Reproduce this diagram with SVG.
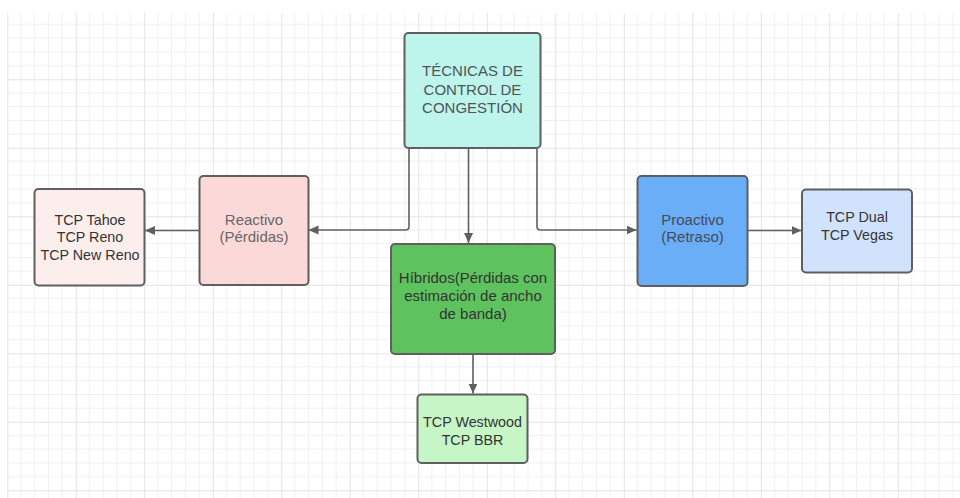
<svg xmlns="http://www.w3.org/2000/svg" width="960" height="498" viewBox="0 0 960 498">
  <defs>
    <pattern id="grid" patternUnits="userSpaceOnUse" x="7.3" y="10.8" width="68.5" height="68.5">
      <g stroke="#f0f0f0" stroke-width="1">
        <path d="M13.7,0V68.5M27.4,0V68.5M41.1,0V68.5M54.8,0V68.5"/>
        <path d="M0,13.7H68.5M0,27.4H68.5M0,41.1H68.5M0,54.8H68.5"/>
      </g>
      <path d="M0.5,0V68.5M0,0.5H68.5" stroke="#e3e3e3" stroke-width="1"/>
    </pattern>
    <marker id="arr" markerUnits="userSpaceOnUse" markerWidth="11" markerHeight="10" refX="10" refY="4.5" orient="auto">
      <path d="M0,0 L10,4.5 L0,9 z" fill="#5f5f5f"/>
    </marker>
    <style>
      .box { stroke: #5f5f5f; stroke-width: 2; }
      .t { font-family: "Liberation Sans", Arial, sans-serif; text-anchor: middle; }
      .t15 { font-size: 15px; }
      .t14 { font-size: 14.3px; }
      .conn { fill: none; stroke: #5f5f5f; stroke-width: 1.6; marker-end: url(#arr); }
    </style>
  </defs>
  <rect width="960" height="498" fill="#ffffff"/>
  <rect x="7" y="13" width="953" height="485" fill="url(#grid)"/>

  <g id="connectors">
    <path class="conn" d="M409,149 V226.5 Q409,230 405.5,230 H308.5"/>
    <path class="conn" d="M468.5,149 V243"/>
    <path class="conn" d="M537,149 V226.5 Q537,230 540.5,230 H636.5"/>
    <path class="conn" d="M199,230.5 H145"/>
    <path class="conn" d="M747.5,230.5 H801.5"/>
    <path class="conn" d="M473,355 V393.5"/>
  </g>

  <g id="tecnicas">
    <rect class="box" x="404.5" y="33" width="136" height="115" rx="4" fill="#bdf4ec"/>
    <text class="t t15" fill="#4f5555" x="472.5" y="76">TÉCNICAS DE</text>
    <text class="t t15" fill="#4f5555" x="472.5" y="94.5">CONTROL DE</text>
    <text class="t t15" fill="#4f5555" x="472.5" y="112.7">CONGESTIÓN</text>
  </g>

  <g id="reactivo">
    <rect class="box" x="199.5" y="176" width="109" height="109" rx="4" fill="#fcd9d9"/>
    <text class="t t15" fill="#666666" x="254" y="225">Reactivo</text>
    <text class="t t15" fill="#666666" x="254" y="242.3">(Pérdidas)</text>
  </g>

  <g id="tahoe">
    <rect class="box" x="34.5" y="189" width="110" height="96.5" rx="4" fill="#fdeeee"/>
    <text class="t t14" fill="#333333" x="90" y="225">TCP Tahoe</text>
    <text class="t t14" fill="#333333" x="90" y="242.3">TCP Reno</text>
    <text class="t t14" fill="#333333" x="90" y="260">TCP New Reno</text>
  </g>

  <g id="hibridos">
    <rect class="box" x="391" y="244" width="164" height="110" rx="4" fill="#5ec35e"/>
    <text class="t t15" fill="#333333" x="473" y="282.7">Híbridos(Pérdidas con</text>
    <text class="t t15" fill="#333333" x="473" y="300.7">estimación de ancho</text>
    <text class="t t15" fill="#333333" x="473" y="319">de banda)</text>
  </g>

  <g id="westwood">
    <rect class="box" x="417.5" y="394.5" width="110" height="68.5" rx="4" fill="#c6f5c6"/>
    <text class="t t14" fill="#333333" x="472.5" y="427.3">TCP Westwood</text>
    <text class="t t14" fill="#333333" x="472.5" y="445">TCP BBR</text>
  </g>

  <g id="proactivo">
    <rect class="box" x="637.5" y="176" width="110" height="110" rx="4" fill="#6aaef8"/>
    <text class="t t15" fill="#454a55" x="692.5" y="224.5">Proactivo</text>
    <text class="t t15" fill="#454a55" x="692.5" y="242">(Retraso)</text>
  </g>

  <g id="dual">
    <rect class="box" x="802" y="189.5" width="110" height="83" rx="4" fill="#d1e3fc"/>
    <text class="t t14" fill="#333333" x="857" y="222.3">TCP Dual</text>
    <text class="t t14" fill="#333333" x="857" y="240">TCP Vegas</text>
  </g>
</svg>
